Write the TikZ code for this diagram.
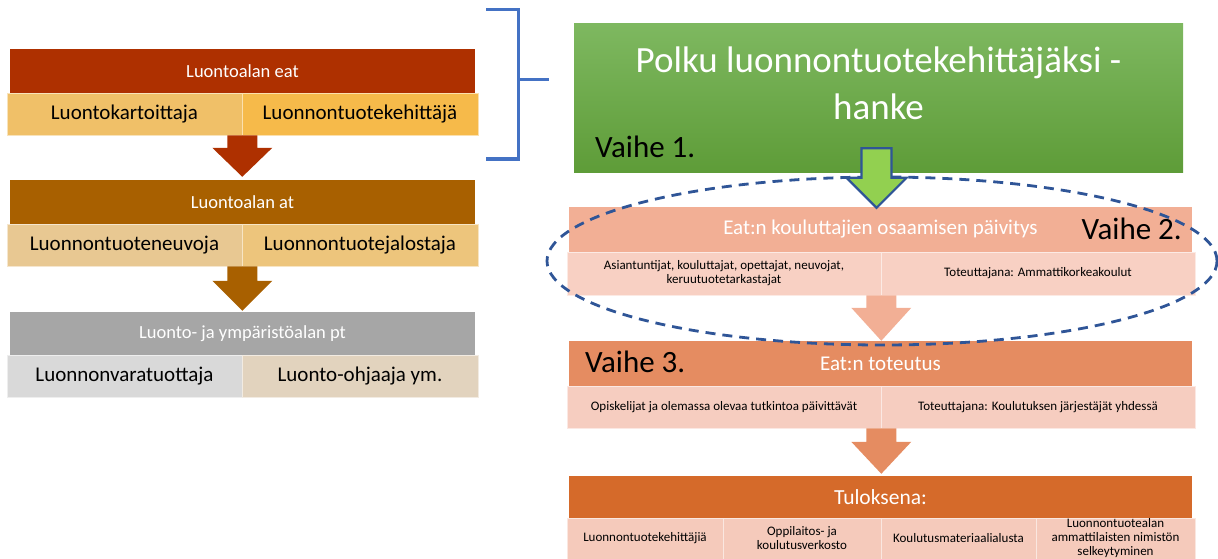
\documentclass[tikz,border=0pt]{standalone}
\usepackage{fontspec}
\setmainfont{Carlito}
\usetikzlibrary{calc,shapes.geometric}

\definecolor{eatred}{RGB}{174,48,0}
\definecolor{eatleft}{RGB}{240,192,104}
\definecolor{eatright}{RGB}{246,186,74}
\definecolor{atbrown}{RGB}{168,96,0}
\definecolor{atleft}{RGB}{232,200,146}
\definecolor{atright}{RGB}{237,197,124}
\definecolor{ptgray}{RGB}{166,166,166}
\definecolor{ptleft}{RGB}{217,217,217}
\definecolor{ptright}{RGB}{226,211,190}
\definecolor{hanketop}{RGB}{126,184,96}
\definecolor{hankebot}{RGB}{94,156,56}
\definecolor{arrowgreen}{RGB}{146,208,80}
\definecolor{darkblue}{RGB}{47,85,151}
\definecolor{bracketblue}{RGB}{68,114,196}
\definecolor{salmon}{RGB}{242,175,149}
\definecolor{salmonpale}{RGB}{248,208,195}
\definecolor{coral}{RGB}{229,140,97}
\definecolor{coralpale}{RGB}{246,205,192}
\definecolor{rust}{RGB}{213,106,42}
\definecolor{rustpale}{RGB}{245,202,187}

\tikzset{
  headbox/.style={rectangle, fill=#1, text=white, minimum width=465, minimum height=44,
    inner sep=0, font=\fontsize{18.5}{22}\selectfont},
  cellbox/.style={rectangle, fill=#1, draw=white!55!#1, line width=0.6, text=black,
    minimum height=42, inner sep=0, font=\fontsize{21}{25}\selectfont},
  stagebox/.style={rectangle, fill=#1, text=white, minimum width=623, minimum height=45,
    inner sep=0, font=\fontsize{21}{25}\selectfont},
  notebox/.style={rectangle, fill=#1, draw=white!55!#1, line width=0.6, text=black,
    minimum height=42, inner sep=0, align=center, font=\fontsize{13}{14}\selectfont},
  vaihetext/.style={font=\fontsize{31}{36}\selectfont, text=black, inner sep=0},
}

% block arrow: start, tip, options, head length
\newcommand{\blockarrow}[4]{%
  \path[#3] let \p1=#1, \p2=#2 in
    (\x2-15,\y1) -- (\x2+15,\y1) -- (\x2+15,\y2+#4) -- (\x2+30,\y2+#4)
    -- (\x2,\y2) -- (\x2-30,\y2+#4) -- (\x2-15,\y2+#4) -- cycle;}

\begin{document}
\begin{tikzpicture}[x=1pt, y=-1pt]
\useasboundingbox (0,0) rectangle (1218,559);

% left column
\draw (242.5,71) node[headbox=eatred] (hdA) {Luontoalan eat};
\draw (124.5,114) node[cellbox=eatleft, minimum width=235] (aL) {Luontokartoittaja};
\draw (360,114) node[cellbox=eatright, minimum width=236] (aR) {Luonnontuotekehittäjä};

\draw (242.5,202) node[headbox=atbrown] (hdB) {Luontoalan at};
\draw (124.5,245) node[cellbox=atleft, minimum width=235] (bL) {Luonnontuoteneuvoja};
\draw (360,245) node[cellbox=atright, minimum width=236] (bR) {Luonnontuotejalostaja};

\draw (242.5,333.5) node[headbox=ptgray, minimum height=43] (hdC) {Luonto- ja ympäristöalan pt};
\draw (124.5,376) node[cellbox=ptleft, minimum width=235] (cL) {Luonnonvaratuottaja};
\draw (360,376) node[cellbox=ptright, minimum width=236] (cR) {Luonto-ohjaaja ym.};

\blockarrow{(aL.south east)}{($(aL.south east |- hdB.north)+(0,-3)$)}{fill=eatred}{29}
\blockarrow{(bL.south east)}{($(bL.south east |- hdC.north)+(0,-1)$)}{fill=atbrown}{30}

% bracket
\draw[bracketblue, line width=3] (486,9.5) -- (518,9.5) -- (518,159) -- (486,159);
\draw[bracketblue, line width=3] (518,80) -- (549,80);

% right column
\draw (878.5,98) node[rectangle, minimum width=609, minimum height=148, inner sep=0,
  top color=hanketop, bottom color=hankebot] (hanke) {};
\draw (878.5,83) node[align=center, text=white, font=\fontsize{37}{47}\selectfont] (title)
  {Polku luonnontuotekehittäjäksi -\\hanke};
\draw (595,147) node[vaihetext, anchor=west] (v1) {Vaihe 1.};

\draw (880.5,229.5) node[stagebox=salmon] (s1) {Eat:n kouluttajien osaamisen päivitys};
\draw (1182,229) node[vaihetext, anchor=east] (v2) {Vaihe 2.};
\draw (724,273.5) node[notebox=salmonpale, minimum width=314, minimum height=43] (s1L)
  {Asiantuntijat, kouluttajat, opettajat, neuvojat,\\keruutuotetarkastajat};
\draw (1038,273.5) node[notebox=salmonpale, minimum width=314, minimum height=43] (s1R)
  {Toteuttajana: Ammattikorkeakoulut};

\draw (880.5,363.5) node[stagebox=coral] (s2) {Eat:n toteutus};
\draw (585,362) node[vaihetext, anchor=west] (v3) {Vaihe 3.};
\draw (724,407) node[notebox=coralpale, minimum width=314] (s2L)
  {Opiskelijat ja olemassa olevaa tutkintoa päivittävät};
\draw (1038,407) node[notebox=coralpale, minimum width=314] (s2R)
  {Toteuttajana: Koulutuksen järjestäjät yhdessä};

\draw (880.5,497) node[stagebox=rust, minimum height=42, font=\fontsize{21.5}{25}\selectfont] (s3) {Tuloksena:};
\draw (645,538.5) node[notebox=rustpale, minimum width=156, minimum height=41] (t1) {Luonnontuotekehittäjiä};
\draw (802,538.5) node[notebox=rustpale, minimum width=158, minimum height=41] (t2) {Oppilaitos- ja\\koulutusverkosto};
\draw (958.5,538.5) node[notebox=rustpale, minimum width=155, minimum height=41] (t3) {Koulutusmateriaalialusta};
\draw (1115.5,538.5) node[notebox=rustpale, minimum width=159, minimum height=41] (t4)
  {Luonnontuotealan\\ammattilaisten nimistön\\selkeytyminen};

\blockarrow{(s1L.south east)}{(s1L.south east |- s2.north)}{fill=salmon}{33}
\blockarrow{(s2L.south east)}{($(s2L.south east |- s3.north)+(0,-2)$)}{fill=coral}{32}

\draw (882,261) node[ellipse, draw=darkblue, dash pattern=on 10pt off 7pt, line width=2.8,
  minimum width=670, minimum height=168, inner sep=0] (ring) {};

\blockarrow{($(hanke.south)+(-2,-24)$)}{($(hanke.south |- s1.north)+(-2,1)$)}{fill=arrowgreen, draw=darkblue, line width=2.2}{30}
\end{tikzpicture}
\end{document}
